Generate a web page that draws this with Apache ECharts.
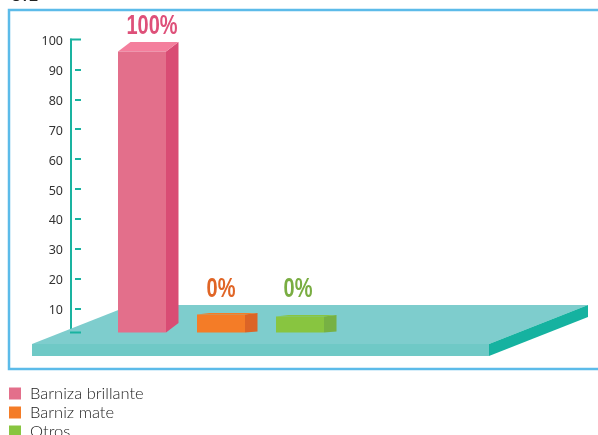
<!DOCTYPE html>
<html><head><meta charset="utf-8">
<style>html,body{margin:0;padding:0;background:#fff}#c{width:598px;height:435px}</style>
<script src="https://cdn.jsdelivr.net/npm/echarts@6/dist/echarts.min.js"></script>
</head><body><div id="c"></div>
<script>
const categories = ['Barniza brillante', 'Barniz mate', 'Otros'];
const values = [100, 0, 0];
const percentLabels = ['100%', '0%', '0%'];
const yTicks = [10, 20, 30, 40, 50, 60, 70, 80, 90, 100];
const axisEnds = [2, 100];

const front = ['#e36f8b', '#f47c27', '#88c540'];
const top_ = ['#f47f9d', '#f47c27', '#88c540'];
const side = ['#d94c74', '#dc6426', '#77b143'];
const labelColor = ['#de5079', '#e06526', '#79ad42'];
const stub = [0, 18, 16];
const labelY = [27, 290, 290];
const labelDx = [10, 0, -2];

function block(i) {
  return function (params, api) {
    const base = api.coord([i, 0]);
    const tip = api.coord([i, api.value(1)]);
    const w = 48, dx = 12.5, dy = 9.5;
    const x0 = base[0] - w / 2, x1 = base[0] + w / 2;
    const yb = base[1];
    const yt = Math.min(tip[1], yb - stub[i]);
    const d = stub[i] ? 1.5 : dy;
    return {
      type: 'group',
      children: [
        { type: 'polygon', shape: { points: [[x1, yb], [x1, yt], [x1 + dx, yt - d], [x1 + dx, yb - (stub[i] ? 1 : dy)]] }, style: { fill: side[i] } },
        { type: 'polygon', shape: { points: [[x0, yt], [x0 + dx, yt - d], [x1 + dx, yt - d], [x1, yt]] }, style: { fill: top_[i] } },
        { type: 'rect', shape: { x: x0, y: yt, width: w, height: yb - yt }, style: { fill: front[i] } },
        { type: 'text', x: base[0] + labelDx[i], y: labelY[i], scaleX: 0.74, style: { text: percentLabels[i], fill: labelColor[i], font: 'bold 27px "Liberation Sans"', align: 'center', verticalAlign: 'middle' } }
      ]
    };
  };
}

function cap(params, api) {
  const p = api.coord([0, api.value(1)]);
  return { type: 'rect', shape: { x: 70, y: p[1] - 1, width: 11, height: 2 }, style: { fill: '#1ab3a0' } };
}

const option = {
  animation: false,
  backgroundColor: '#fff',
  graphic: [
    { type: 'text', z: 1, x: 11, y: -15, style: { text: '5.1', font: '20px "Lato"', fill: '#222' } },
    { type: 'rect', z: 0, shape: { x: 9, y: 10, width: 640, height: 359 }, style: { fill: '#fff', stroke: '#5cbbe9', lineWidth: 2.5 } },
    { type: 'polygon', z: 1, shape: { points: [[32, 344], [131, 305], [588, 305], [489, 344]] }, style: { fill: '#7ecdcd' } },
    { type: 'polygon', z: 1, shape: { points: [[32, 344], [489, 344], [489, 356], [32, 356]] }, style: { fill: '#6fc9c6' } },
    { type: 'polygon', z: 1, shape: { points: [[489, 344], [588, 305], [588, 317], [489, 356]] }, style: { fill: '#15b2a0' } }
  ],
  legend: {
    orient: 'vertical', left: 9, top: 385, height: 80, itemWidth: 12, itemHeight: 12, itemGap: 2,
    icon: 'rect', padding: 0,
    data: categories,
    textStyle: { fontFamily: 'Lato', fontWeight: 300, fontSize: 16.5, lineHeight: 12, color: '#222', padding: [0, 0, 0, 4] }
  },
  grid: { left: 102.5, width: 237, top: 39.5, height: 293 },
  xAxis: { type: 'category', data: categories, show: false },
  yAxis: [
    { type: 'value', min: 2, max: 100, position: 'left', offset: 31.5, splitLine: { show: false },
      axisLine: { show: true, lineStyle: { color: '#1ab3a0', width: 2 } },
      axisTick: { show: false },
      axisLabel: { show: false } },
    { type: 'value', min: 2, max: 100, position: 'left', offset: 21.5, splitLine: { show: false },
      axisLine: { show: false },
      axisTick: { show: true, length: 6, customValues: yTicks.slice(0, -1), lineStyle: { color: '#1ab3a0', width: 2 } },
      axisLabel: { show: true, margin: 18, customValues: yTicks, formatter: '{a|{value}}',
        rich: { a: { fontFamily: 'Noto Sans', fontSize: 12.5, color: '#333', padding: [4, 0, 0, 0] } } } },
    { type: 'value', min: 0, max: 104.3, show: false }
  ],
  series: categories.map((name, i) => ({
    name, type: 'custom', yAxisIndex: 2, z: 5,
    itemStyle: { color: front[i] },
    encode: { x: 0, y: 1 },
    renderItem: block(i),
    data: [[i, values[i]]]
  })).concat([{
    name: 'axisEnds', type: 'custom', yAxisIndex: 0, z: 4,
    encode: { x: 0, y: 1 }, renderItem: cap,
    data: axisEnds.map(v => [0, v])
  }])
};
const chart = echarts.init(document.getElementById('c'), null, { renderer: 'canvas' });
chart.setOption(option);
</script></body></html>
